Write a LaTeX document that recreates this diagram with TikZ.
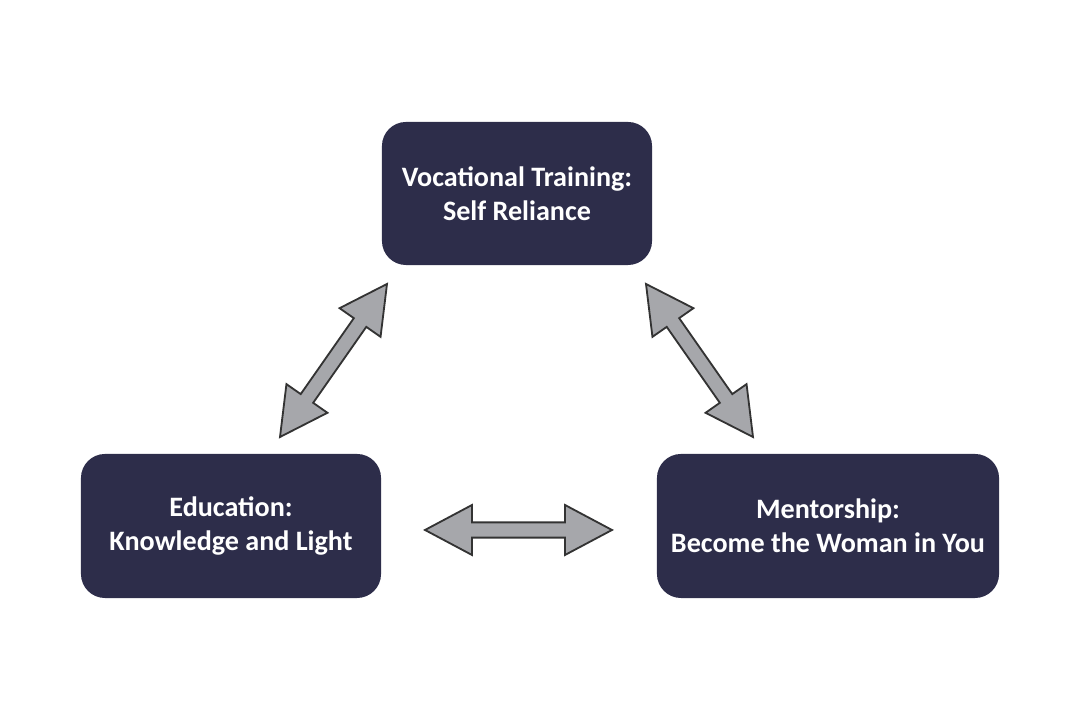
\documentclass[tikz,border=0pt]{standalone}
\usepackage{fontspec}
\setmainfont{Carlito}
\usetikzlibrary{calc,positioning}

\definecolor{boxnavy}{RGB}{45,45,74}
\definecolor{arrowgray}{RGB}{166,167,171}
\definecolor{arrowedge}{RGB}{51,51,51}

% block arrow with two heads between two named points
\newcommand{\biarrow}[2]{%
	\draw[biarrow] (#1)
		-- ($(#1)!1.175cm!(#2)!0.625cm!90:(#2)$)
		-- ($(#1)!1.175cm!(#2)!0.19cm!90:(#2)$)
		-- ($(#2)!1.175cm!(#1)!0.19cm!-90:(#1)$)
		-- ($(#2)!1.175cm!(#1)!0.625cm!-90:(#1)$)
		-- (#2)
		-- ($(#2)!1.175cm!(#1)!0.625cm!90:(#1)$)
		-- ($(#2)!1.175cm!(#1)!0.19cm!90:(#1)$)
		-- ($(#1)!1.175cm!(#2)!0.19cm!-90:(#2)$)
		-- ($(#1)!1.175cm!(#2)!0.625cm!-90:(#2)$)
		-- cycle;}

\begin{document}
\begin{tikzpicture}[x=0.025cm,y=0.025cm,
	stage/.style={rectangle,rounded corners=0.6cm,fill=boxnavy,text=white,
		align=center,font=\fontsize{20}{24}\selectfont\bfseries,inner sep=0pt},
	biarrow/.style={fill=arrowgray,draw=arrowedge,line width=1.3pt,line join=miter}
	]

	\useasboundingbox (0,0) rectangle (1080,720);

	\node[stage,minimum width=6.75cm,minimum height=3.575cm] (voc) at (517,526.5)
		{Vocational Training:\\Self Reliance};
	\node[stage,minimum width=7.5cm,minimum height=3.6cm] (edu) at (231,194)
		{Education:\\Knowledge and Light};
	\node[stage,minimum width=8.55cm,minimum height=3.6cm] (ment) at (828,194)
		{Mentorship:\\Become the Woman in You};

	\coordinate (edu-up) at (280,283);
	\coordinate (voc-left) at (387,436);
	\coordinate (voc-right) at (646,436);
	\coordinate (ment-up) at (753,283);
	\coordinate (edu-right) at (425,190);
	\coordinate (ment-left) at (612,190);

	\biarrow{edu-up}{voc-left}
	\biarrow{voc-right}{ment-up}
	\biarrow{edu-right}{ment-left}

\end{tikzpicture}
\end{document}
